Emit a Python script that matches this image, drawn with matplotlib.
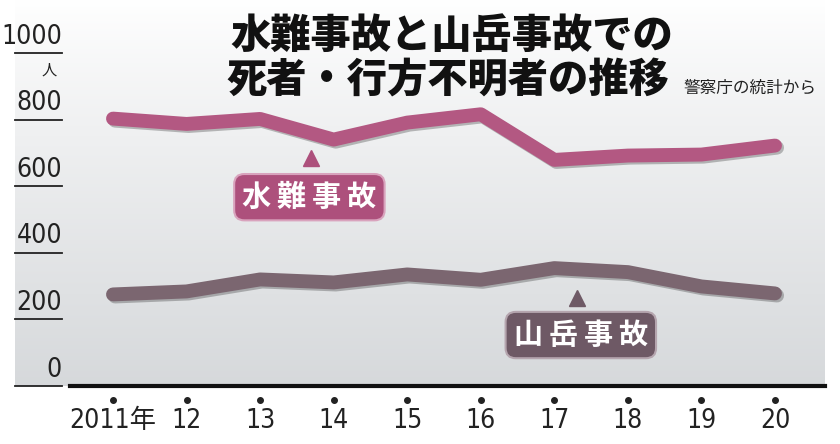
import numpy as np
import matplotlib
matplotlib.use("Agg")
import matplotlib.pyplot as plt
import matplotlib.patheffects as pe
from matplotlib.transforms import blended_transform_factory

# data (police agency statistics)
years = [2011, 2012, 2013, 2014, 2015, 2016, 2017, 2018, 2019, 2020]
year_labels = ["2011年", "12", "13", "14", "15", "16", "17", "18", "19", "20"]
water = [803, 787, 802, 740, 791, 816, 679, 692, 695, 722]
mountain = [275, 284, 320, 311, 335, 319, 354, 342, 299, 278]
y_ticks = [0, 200, 400, 600, 800, 1000]

num_font = ["DejaVu Sans", "Noto Sans CJK JP"]
jp_font = ["Noto Sans CJK JP", "DejaVu Sans"]

water_color = "#b35882"
water_box = "#ad507c"
mount_color = "#7b6670"
mount_box = "#6e5965"

W, H = 840, 444
fig = plt.figure(figsize=(W / 100, H / 100), dpi=100)

# background gradient, white at top -> light grey at bottom
bg = fig.add_axes([15 / W, (H - 386) / H, (825 - 15) / W, 386 / H])
grad = np.linspace(0, 1, 256) ** 0.9
top = np.array([1.0, 1.0, 1.0])
bot = np.array([0.84, 0.85, 0.86])
img = top[None, :] * (1 - grad[:, None]) + bot[None, :] * grad[:, None]
bg.imshow(img[:, None, :], aspect="auto", extent=[0, 1, 0, 1], origin="upper")
bg.set_axis_off()

# main axes
ax = fig.add_axes([70 / W, (H - 386) / H, (825 - 70) / W, (386 - 53) / H])
ax.patch.set_alpha(0)
ax.set_ylim(0, 1000)
ax.set_xlim(2011 - 43 / 73.56, 2020 + 50 / 73.56)
for s in ["top", "right", "left"]:
    ax.spines[s].set_visible(False)
ax.spines["bottom"].set_linewidth(3)
ax.spines["bottom"].set_color("#111111")
ax.set_yticks([])
ax.set_xticks([])

# dotted grid + left short rules with labels
trans = blended_transform_factory(ax.transAxes, ax.transData)
for v in y_ticks:
    if v > 0:
        ax.plot([0, 1], [v, v], color="#555555", lw=1.3, ls=(0, (1, 3.5)), zorder=1)
    ax.plot([-55 / 755, -8 / 755], [v, v], color="#222222", lw=1.3,
            transform=trans, clip_on=False)
    ax.text(-8 / 755, v + 10, str(v), transform=trans, ha="right", va="bottom",
            fontsize=19, family=num_font, fontstretch="condensed", color="#222222")
ax.text(-13 / 755, 948, "人", transform=trans, ha="right", va="center",
        fontsize=11, family=jp_font, color="#222222")

# x tick dots and labels
for x, lab in zip(years, year_labels):
    ax.plot(x, -42, "o", color="#222222", ms=4, clip_on=False)
    ax.text(x, -106, lab, ha="center", va="center", fontsize=19,
            family=num_font, fontstretch="condensed", color="#222222", clip_on=False)

# lines
shadow = [pe.SimpleLineShadow(offset=(1.5, -1.5), alpha=0.25), pe.Normal()]
ax.plot(years, water, color=water_color, lw=10, solid_capstyle="round",
        solid_joinstyle="round", path_effects=shadow, zorder=3)
ax.plot(years, mountain, color=mount_color, lw=10, solid_capstyle="round",
        solid_joinstyle="round", path_effects=shadow, zorder=3)

# series labels with pointer triangles
ax.plot(2013.69, 684, "^", color=water_box, ms=12, zorder=4)
ax.text(2013.67, 567, "水 難 事 故", ha="center", va="center", fontsize=21,
        fontweight="bold", family=jp_font, color="white", zorder=5,
        bbox=dict(boxstyle="round,pad=0.28,rounding_size=0.35", fc=water_box,
                  ec="#d9a3bd", lw=1.5))
ax.plot(2017.31, 264, "^", color=mount_box, ms=12, zorder=4)
ax.text(2017.36, 153, "山 岳 事 故", ha="center", va="center", fontsize=21,
        fontweight="bold", family=jp_font, color="white", zorder=5,
        bbox=dict(boxstyle="round,pad=0.28,rounding_size=0.35", fc=mount_box,
                  ec="#b5a5ae", lw=1.5))
for t in ax.texts[-2:]:
    t.set_text(t.get_text().replace(" ", "\u2009"))

# title
fig.text(452 / W, 1 - 36 / H, "水難事故と山岳事故での", ha="center", va="center",
         fontsize=29, fontweight="heavy", family=jp_font, color="#111111")
fig.text(448 / W, 1 - 81 / H, "死者・行方不明者の推移", ha="center", va="center",
         fontsize=29, fontweight="heavy", family=jp_font, color="#111111")
fig.text(683 / W, 1 - 88 / H, "警察庁の統計から", ha="left", va="center",
         fontsize=12, family=jp_font, color="#222222")

fig.savefig("out.png", dpi=100)
